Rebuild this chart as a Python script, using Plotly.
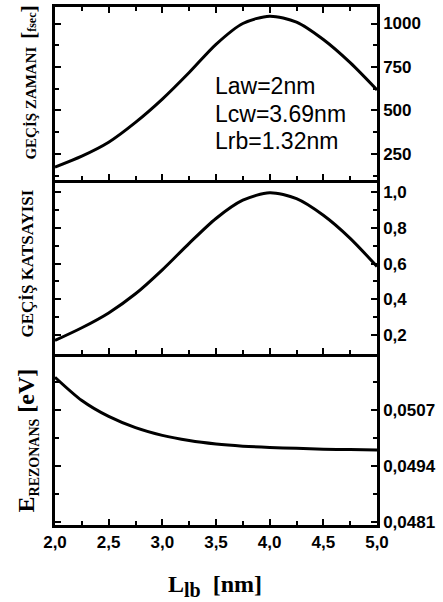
import plotly.graph_objects as go
from plotly.subplots import make_subplots

# ---- data ----
L_lb = [2.0, 2.25, 2.5, 2.75, 3.0, 3.25, 3.5, 3.75, 4.0, 4.25, 4.5, 4.75, 5.0]
gecis_zamani = [174, 237, 317, 431, 565, 718, 880, 1000, 1042, 1008, 908, 775, 618]
gecis_katsayisi = [0.170, 0.241, 0.324, 0.431, 0.565, 0.713, 0.852, 0.954, 0.996, 0.963, 0.870, 0.741, 0.583]
e_rezonans = [0.05145, 0.05091, 0.05054, 0.05028, 0.05010, 0.04998, 0.04990, 0.04985,
              0.04982, 0.04980, 0.04978, 0.04977, 0.04976]

x_ticks = [2.0, 2.5, 3.0, 3.5, 4.0, 4.5, 5.0]
x_ticktext = ["2,0", "2,5", "3,0", "3,5", "4,0", "4,5", "5,0"]
x_minor = [2.25, 2.75, 3.25, 3.75, 4.25, 4.75]

t_ticks = [250, 500, 750, 1000]
t_ticktext = ["250", "500", "750", "1000"]
t_minor = [125, 375, 625, 875]

k_ticks = [0.2, 0.4, 0.6, 0.8, 1.0]
k_ticktext = ["0,2", "0,4", "0,6", "0,8", "1,0"]
k_minor = [0.1, 0.3, 0.5, 0.7, 0.9]

e_ticks = [0.0481, 0.0494, 0.0507]
e_ticktext = ["0,0481", "0,0494", "0,0507"]
e_minor = [0.04875, 0.05005, 0.05135]

# ---- figure ----
W, H = 443, 602
ml, mr, mt, mb = 55, 66, 4, 77
ph = H - mt - mb

def py(p):
    return (H - mb - p) / ph

def px(p):
    return (p - ml) / (W - ml - mr)

fig = make_subplots(rows=3, cols=1, shared_xaxes=False, vertical_spacing=0)

line = dict(color="black", width=3, shape="spline", smoothing=0.8)
fig.add_trace(go.Scatter(x=L_lb, y=gecis_zamani, mode="lines", line=line, showlegend=False), row=1, col=1)
fig.add_trace(go.Scatter(x=L_lb, y=gecis_katsayisi, mode="lines", line=line, showlegend=False), row=2, col=1)
fig.add_trace(go.Scatter(x=L_lb, y=e_rezonans, mode="lines", line=line, showlegend=False), row=3, col=1)

tickfont = dict(family="Liberation Sans, Arial", size=17, color="black", weight="bold")

d_top = [py(178), 1.0]
d_mid = [py(353), py(178)]
d_bot = [0.0, py(353)]

base = dict(showline=True, linecolor="black", linewidth=2.5,
            ticks="inside", ticklen=6, tickwidth=2, tickcolor="black",
            showgrid=False, zeroline=False, tickfont=tickfont)
minor_style = dict(ticklen=4, tickwidth=2, tickcolor="black", ticks="inside", showgrid=False)

for i in [1, 2, 3]:
    fig.update_xaxes(range=[2.0, 5.0], tickmode="array", tickvals=x_ticks, ticktext=x_ticktext,
                     showticklabels=(i == 3), mirror=("ticks" if i == 1 else False),
                     minor=dict(tickmode="array", tickvals=x_minor, **minor_style),
                     row=i, col=1, **base)

fig.update_yaxes(range=[100, 1095], tickmode="array", tickvals=t_ticks, ticktext=t_ticktext,
                 side="right", mirror="ticks", minor=dict(tickmode="array", tickvals=t_minor, **minor_style),
                 domain=d_top, row=1, col=1, **base)
fig.update_yaxes(range=[0.0945, 1.067], tickmode="array", tickvals=k_ticks, ticktext=k_ticktext,
                 side="right", mirror="ticks", minor=dict(tickmode="array", tickvals=k_minor, **minor_style),
                 domain=d_mid, row=2, col=1, **base)
fig.update_yaxes(range=[0.04802, 0.05199], tickmode="array", tickvals=e_ticks, ticktext=e_ticktext,
                 side="right", mirror="ticks", minor=dict(tickmode="array", tickvals=e_minor, **minor_style),
                 domain=d_bot, row=3, col=1, **base)

serif = "Liberation Serif, Times New Roman"
ann = []
# left titles
ann.append(dict(text="GEÇİŞ ZAMANI  <span style='font-size:22px'>[</span><span style='font-size:12px'>fsec</span><span style='font-size:22px'>]</span>",
                x=px(29), y=py(80), xref="paper", yref="paper", textangle=-90, showarrow=False,
                font=dict(family=serif, size=15, color="black", weight="bold"),
                xanchor="center", yanchor="middle"))
ann.append(dict(text="GEÇİŞ KATSAYISI",
                x=px(28), y=py(262), xref="paper", yref="paper", textangle=-90, showarrow=False,
                font=dict(family=serif, size=17, color="black", weight="bold"),
                xanchor="center", yanchor="middle"))
ann.append(dict(text="E<sub><span style='font-size:14px'>REZONANS</span></sub> [eV]",
                x=px(27), y=py(440), xref="paper", yref="paper", textangle=-90, showarrow=False,
                font=dict(family=serif, size=24, color="black", weight="bold"),
                xanchor="center", yanchor="middle"))
# x title
ann.append(dict(text="L<sub><span style='font-size:20px'>lb</span></sub>  [nm]",
                x=px(215), y=py(586), xref="paper", yref="paper", showarrow=False,
                font=dict(family=serif, size=24, color="black", weight="bold"),
                xanchor="center", yanchor="middle"))
# parameter labels
for txt, yc in [("Law=2nm", 83), ("Lcw=3.69nm", 112), ("Lrb=1.32nm", 139)]:
    ann.append(dict(text=txt, x=px(213), y=py(yc), xref="paper", yref="paper", showarrow=False,
                    font=dict(family="Liberation Sans, Arial", size=23, color="black"),
                    xanchor="left", yanchor="middle"))

fig.update_layout(width=W, height=H, margin=dict(l=ml, r=mr, t=mt, b=mb),
                  plot_bgcolor="white", paper_bgcolor="white", annotations=ann)

fig.write_html("out.html")
